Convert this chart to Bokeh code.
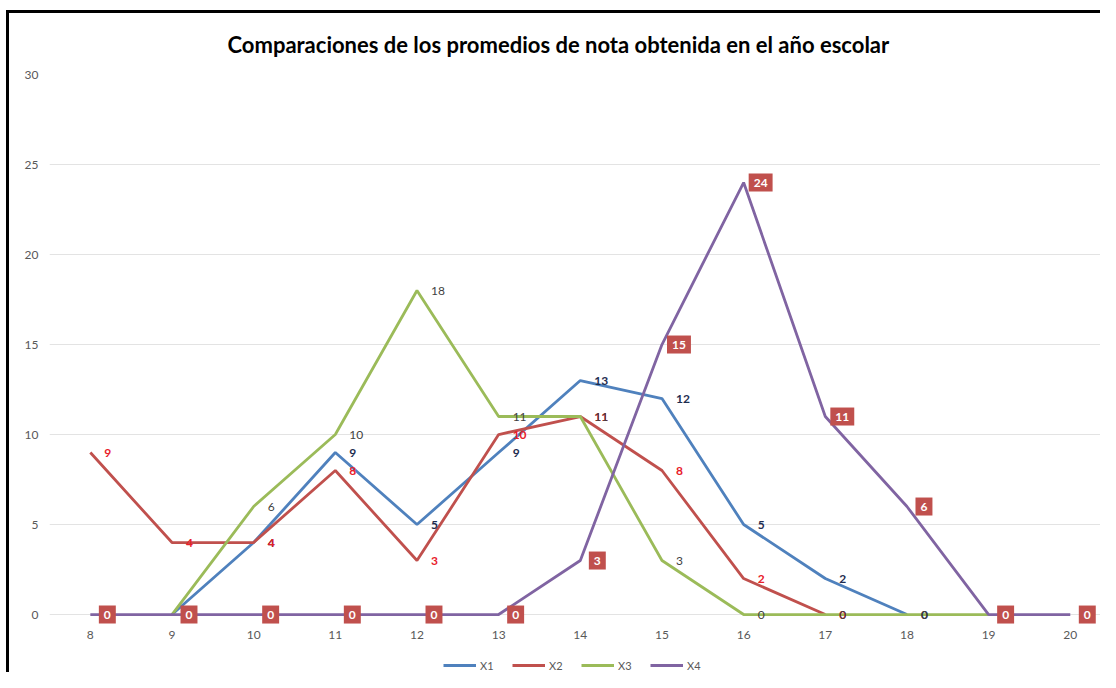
from bokeh.plotting import figure
from bokeh.models import ColumnDataSource, FixedTicker, Legend, LegendItem, Range1d
from bokeh.core.properties import value
from bokeh.embed import file_html
from bokeh.resources import INLINE

# ---- data ----
notas = [8, 9, 10, 11, 12, 13, 14, 15, 16, 17, 18, 19, 20]
x1 = [None, 0, 4, 9, 5, 9, 13, 12, 5, 2, 0, None, None]
x2 = [9, 4, 4, 8, 3, 10, 11, 8, 2, 0, None, None, None]
x3 = [None, 0, 6, 10, 18, 11, 11, 3, 0, 0, 0, 0, None]
x4 = [0, 0, 0, 0, 0, 0, 3, 15, 24, 11, 6, 0, 0]
series_names = ["X1", "X2", "X3", "X4"]
y_ticks = [0, 5, 10, 15, 20, 25, 30]
title_text = "Comparaciones de los promedios de nota obtenida en el año escolar"

FONT = "Lato"
line_colors = ["#4f81bd", "#c0504d", "#9bbb59", "#8064a2"]
label_colors = ["#1f2d50", "#e8202a", "#3f3f3f", "white"]

p = figure(width=1100, height=672, output_backend="svg", toolbar_location=None,
           x_range=Range1d(7.5, 20.37), y_range=Range1d(-3.22, 30),
           min_border_left=49, min_border_right=0, min_border_top=74, min_border_bottom=0)
p.styles = {"box-shadow": "inset 6px 10px 0 0 white, inset 9px 13px 0 0 black",
            "background-color": "white"}
p.outline_line_color = None
p.background_fill_color = "white"
p.border_fill_alpha = 0

p.title.text = title_text
p.title.align = "left"
p.title.text_font = FONT
p.title.text_font_size = "22px"
p.title.text_font_style = "bold"
p.title.text_color = "#000000"
p.title.standoff = 33
p.title.offset = 178

# axes
p.xaxis.ticker = FixedTicker(ticks=notas)
p.yaxis.ticker = FixedTicker(ticks=y_ticks)
p.xaxis.fixed_location = 0
for ax in (p.xaxis, p.yaxis):
    ax.major_tick_line_color = None
    ax.minor_tick_line_color = None
    ax.major_label_text_font = FONT
    ax.major_label_text_font_size = "12px"
    ax.major_label_text_color = "#595959"
p.yaxis.axis_line_color = None
p.xaxis.axis_line_color = None
p.xaxis.major_label_standoff = 10
p.yaxis.major_label_standoff = 5
p.xgrid.grid_line_color = None
p.ygrid.grid_line_color = "#e3e3e3"
p.ygrid.grid_line_width = 1

all_series = [x1, x2, x3, x4]
renderers = []
for name, vals, col in zip(series_names, all_series, line_colors):
    ys = [float("nan") if v is None else v for v in vals]
    src = ColumnDataSource(dict(x=notas, y=ys))
    r = p.line("x", "y", source=src, line_color=col, line_width=2.8)
    renderers.append(r)

# data labels
for i, (vals, tcol) in enumerate(zip(all_series, label_colors)):
    xs = [n for n, v in zip(notas, vals) if v is not None]
    ys = [v for v in vals if v is not None]
    txt = [str(v) for v in ys]
    src = ColumnDataSource(dict(x=xs, y=ys, t=txt))
    if i < 3:
        p.text("x", "y", text="t", source=src, x_offset=14, text_align="left",
               text_baseline="middle", text_font=value(FONT), text_font_size="12px",
               text_color=tcol, text_font_style="bold" if i < 2 else "normal")
    else:
        p.text("x", "y", text="t", source=src, x_offset=17, text_align="center",
               text_baseline="middle", text_font=value(FONT), text_font_size="12px",
               text_color=tcol, text_font_style="bold",
               background_fill_color="#c0504d", padding=5)

legend = Legend(items=[LegendItem(label=n, renderers=[r]) for n, r in zip(series_names, renderers)],
                orientation="horizontal", location=(394, 0))
legend.label_text_font = FONT
legend.label_text_font_size = "11px"
legend.label_text_color = "#595959"
legend.glyph_width = 33
legend.glyph_height = 14
legend.label_height = 14
legend.label_standoff = 4
legend.spacing = 12
legend.padding = 0
legend.margin = 0
legend.border_line_color = None
legend.background_fill_alpha = 0
p.add_layout(legend, "center")

open("out.html", "w").write(file_html(p, INLINE))
